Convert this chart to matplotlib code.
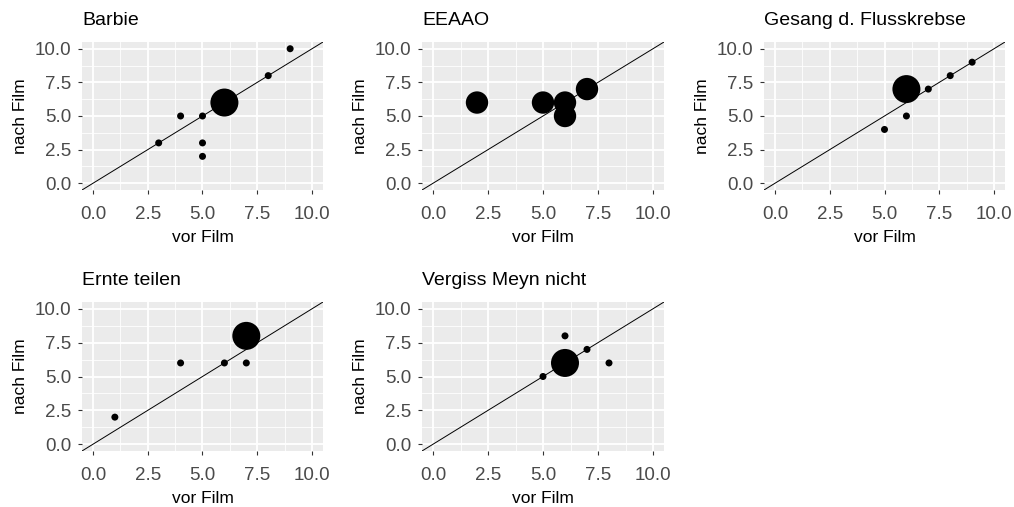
import numpy as np
import matplotlib
matplotlib.use("Agg")
import matplotlib.pyplot as plt
from matplotlib.ticker import MultipleLocator

plt.rcParams['font.family'] = ['Liberation Sans', 'DejaVu Sans']

# ---- data ----
films = ["Barbie", "EEAAO", "Gesang d. Flusskrebse", "Ernte teilen", "Vergiss Meyn nicht"]

barbie_vor = [3, 4, 5, 5, 5, 6, 8, 9]
barbie_nach = [3, 5, 5, 3, 2, 6, 8, 10]
barbie_n = [1, 1, 1, 1, 1, 4, 1, 1]

eeaao_vor = [2, 5, 6, 6, 7]
eeaao_nach = [6, 6, 6, 5, 7]
eeaao_n = [3, 3, 3, 3, 3]

gesang_vor = [5, 6, 6, 7, 8, 9]
gesang_nach = [4, 5, 7, 7, 8, 9]
gesang_n = [1, 1, 4, 1, 1, 1]

ernte_vor = [1, 4, 6, 7, 7]
ernte_nach = [2, 6, 6, 6, 8]
ernte_n = [1, 1, 1, 1, 4]

vergiss_vor = [5, 6, 6, 7, 8]
vergiss_nach = [5, 8, 6, 7, 6]
vergiss_n = [1, 1, 4, 1, 1]

series = [
    (barbie_vor, barbie_nach, barbie_n),
    (eeaao_vor, eeaao_nach, eeaao_n),
    (gesang_vor, gesang_nach, gesang_n),
    (ernte_vor, ernte_nach, ernte_n),
    (vergiss_vor, vergiss_nach, vergiss_n),
]
ticks = [0.0, 2.5, 5.0, 7.5, 10.0]
tick_labels = ["0.0", "2.5", "5.0", "7.5", "10.0"]

# ---- layout ----
W, H, DPI = 1014, 507, 100
fig = plt.figure(figsize=(W / DPI, H / DPI), dpi=DPI)

boxes = [  # x0, x1, ytop, ybottom in pixels
    (82, 323, 42, 190),
    (422, 664, 42, 190),
    (764, 1005, 42, 190),
    (82, 323, 302, 451),
    (422, 664, 302, 451),
]

all_n = np.concatenate([np.asarray(s[2], float) for s in series])
nmin, nmax = all_n.min(), all_n.max()
dmin_px, dmax_px = 7.0, 28.0


def size_scale(n):
    n = np.asarray(n, float)
    d = dmin_px + (np.sqrt(n) - np.sqrt(nmin)) / (np.sqrt(nmax) - np.sqrt(nmin)) * (dmax_px - dmin_px)
    d_pt = d * 72 / DPI
    return d_pt ** 2


for title, (vx, ny, n), (x0, x1, yt, yb) in zip(films, series, boxes):
    ax = fig.add_axes([x0 / W, 1 - yb / H, (x1 - x0) / W, (yb - yt) / H])
    ax.set_facecolor('#EBEBEB')
    ax.set_xlim(-0.5, 10.5)
    ax.set_ylim(-0.5, 10.5)
    ax.xaxis.set_minor_locator(MultipleLocator(1.25))
    ax.yaxis.set_minor_locator(MultipleLocator(1.25))
    ax.set_xticks(ticks)
    ax.set_xticklabels(tick_labels)
    ax.set_yticks(ticks)
    ax.set_yticklabels(tick_labels)
    ax.grid(which='major', color='white', linewidth=1.3)
    ax.grid(which='minor', color='white', linewidth=0.6)
    ax.set_axisbelow(True)
    for sp in ax.spines.values():
        sp.set_visible(False)
    ax.tick_params(which='major', length=3, width=0.8, color='#333333',
                   labelsize=13.5, labelcolor='#4A4A4A')
    ax.tick_params(axis='x', which='major', pad=8.5)
    ax.tick_params(axis='y', which='major', pad=4.5)
    ax.tick_params(which='minor', length=0)
    ax.axline((0, 0), slope=1, color='black', linewidth=0.7, zorder=2)
    ax.scatter(vx, ny, s=size_scale(n), color='black', edgecolors='none', zorder=3)
    ax.set_xlabel('vor Film', fontsize=12.5, color='black', labelpad=5)
    ax.set_ylabel('nach Film', fontsize=12.5, color='black', labelpad=5)
    ax.set_title(title, loc='left', fontsize=14, color='black', pad=12)

fig.savefig('out.png', dpi=DPI)
